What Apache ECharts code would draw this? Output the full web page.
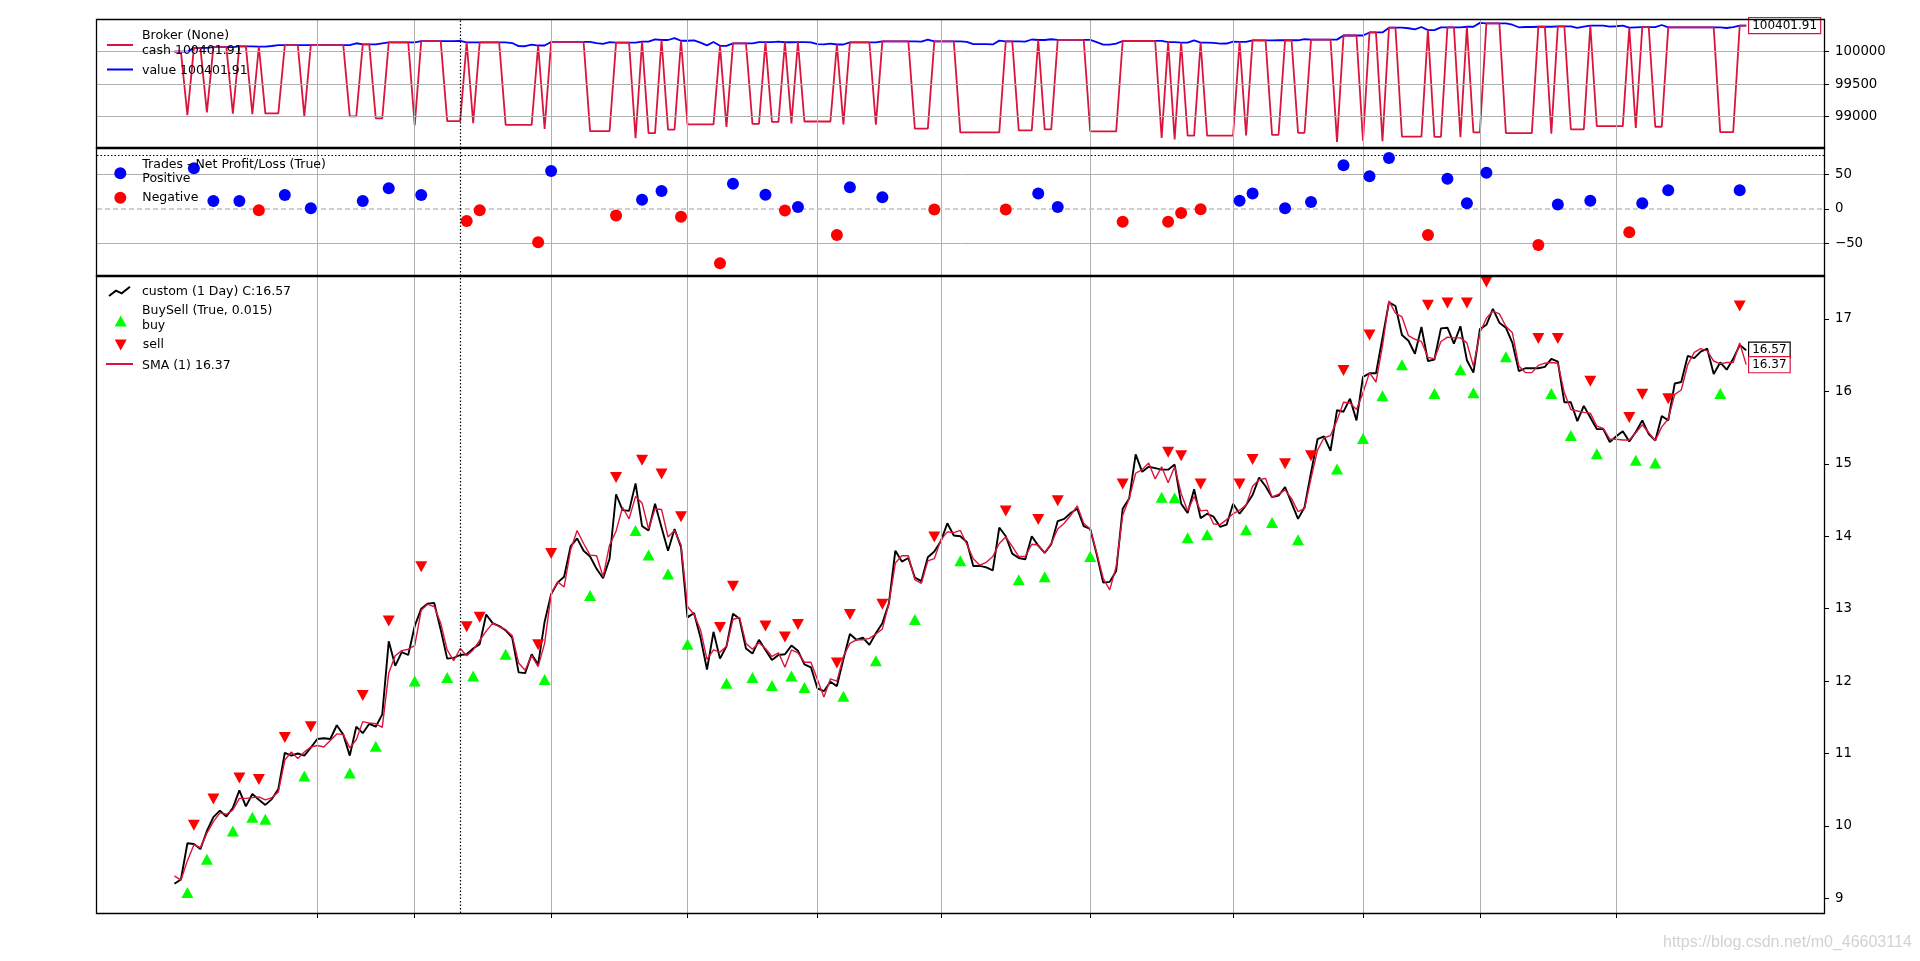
<!DOCTYPE html>
<html><head><meta charset="utf-8">
<script src="https://cdn.jsdelivr.net/npm/echarts@6/dist/echarts.min.js"></script>
<style>html,body{margin:0;padding:0;background:#fff}#c{width:1920px;height:961px}</style>
</head><body><div id="c"></div>
<script>
// ---- data (bar index based x axis) ----
const closeVals = [
9.20,9.26,9.76,9.75,9.68,9.93,10.12,10.21,10.13,10.25,
10.49,10.27,10.44,10.36,10.29,10.37,10.51,11.01,10.97,11.00,
10.97,11.08,11.20,11.21,11.20,11.39,11.26,10.97,11.37,11.28,
11.41,11.37,11.54,12.55,12.21,12.40,12.36,12.76,13.00,13.07,
13.08,12.71,12.31,12.32,12.36,12.37,12.45,12.51,12.92,12.80,
12.76,12.70,12.60,12.12,12.11,12.37,12.23,12.82,13.20,13.36,
13.44,13.86,13.97,13.80,13.72,13.55,13.42,13.69,14.58,14.36,
14.35,14.73,14.14,14.08,14.45,14.12,13.80,14.10,13.85,12.88,
12.94,12.60,12.16,12.68,12.31,12.48,12.93,12.86,12.45,12.38,
12.57,12.43,12.29,12.36,12.37,12.49,12.42,12.23,12.19,11.90,
11.86,11.99,11.93,12.30,12.65,12.57,12.60,12.50,12.66,12.80,
13.07,13.80,13.65,13.70,13.43,13.38,13.71,13.79,13.93,14.18,
14.01,14.00,13.92,13.59,13.59,13.57,13.53,14.12,14.00,13.76,
13.70,13.68,14.00,13.87,13.77,13.89,14.21,14.24,14.32,14.38,
14.14,14.10,13.75,13.36,13.37,13.52,14.38,14.52,15.13,14.89,
14.96,14.94,14.92,14.92,14.99,14.45,14.32,14.65,14.25,14.31,
14.27,14.13,14.16,14.45,14.31,14.43,14.57,14.81,14.69,14.54,
14.56,14.68,14.46,14.24,14.40,14.88,15.34,15.38,15.18,15.74,
15.72,15.90,15.60,16.20,16.25,16.25,16.74,17.23,17.18,16.78,
16.70,16.52,16.89,16.42,16.44,16.87,16.88,16.66,16.90,16.43,
16.26,16.86,16.92,17.14,16.95,16.88,16.67,16.28,16.32,16.32,
16.32,16.34,16.45,16.41,15.85,15.85,15.59,15.80,15.64,15.48,
15.48,15.30,15.38,15.45,15.31,15.44,15.60,15.41,15.32,15.66,
15.60,16.11,16.13,16.49,16.46,16.55,16.59,16.24,16.40,16.30,
16.45,16.64,16.57];
const smaVals = [
9.31,9.25,9.52,9.74,9.70,9.90,10.06,10.18,10.16,10.22,
10.38,10.38,10.39,10.40,10.36,10.39,10.47,10.91,11.02,10.93,
11.02,11.09,11.11,11.09,11.18,11.27,11.26,11.08,11.19,11.44,
11.42,11.41,11.36,12.11,12.35,12.42,12.44,12.49,12.98,13.06,
13.03,12.80,12.43,12.28,12.45,12.35,12.43,12.56,12.69,12.80,
12.75,12.71,12.63,12.25,12.15,12.35,12.20,12.52,13.20,13.37,
13.30,13.81,14.08,13.90,13.74,13.73,13.44,13.88,14.07,14.40,
14.24,14.55,14.46,14.10,14.38,14.37,13.99,14.08,13.88,13.03,
12.92,12.71,12.30,12.43,12.40,12.48,12.85,12.88,12.52,12.44,
12.53,12.45,12.34,12.39,12.19,12.43,12.39,12.26,12.26,12.02,
11.78,12.03,12.00,12.34,12.52,12.57,12.57,12.59,12.65,12.72,
13.07,13.63,13.73,13.73,13.40,13.35,13.66,13.69,13.95,14.06,
14.05,14.08,13.89,13.69,13.60,13.64,13.72,13.90,13.99,13.86,
13.72,13.72,13.89,13.88,13.77,13.90,14.10,14.18,14.29,14.42,
14.18,14.10,13.77,13.42,13.26,13.58,14.29,14.52,14.87,14.92,
15.01,14.79,14.96,14.74,14.96,14.59,14.35,14.55,14.35,14.36,
14.17,14.16,14.23,14.31,14.36,14.43,14.69,14.78,14.80,14.54,
14.58,14.64,14.52,14.34,14.38,14.80,15.19,15.36,15.39,15.60,
15.85,15.84,15.75,15.98,16.26,16.13,16.63,17.25,17.08,17.03,
16.77,16.72,16.69,16.47,16.45,16.69,16.75,16.74,16.74,16.67,
16.35,16.81,17.01,17.11,17.07,16.90,16.81,16.35,16.26,16.26,
16.36,16.39,16.40,16.39,15.98,15.75,15.73,15.71,15.70,15.52,
15.49,15.34,15.34,15.33,15.33,15.43,15.54,15.43,15.32,15.51,
15.62,15.96,16.02,16.37,16.54,16.59,16.56,16.42,16.38,16.40,
16.40,16.67,16.37];
const buyPts = [[2,9.08],[5,9.54],[9,9.93],[12,10.12],[14,10.09],[20,10.69],[27,10.73],[31,11.10],[37,12.00],[42,12.05],[46,12.07],[51,12.37],[57,12.02],[64,13.18],[71,14.08],[73,13.74],[76,13.48],[79,12.51],[85,11.97],[89,12.05],[92,11.94],[95,12.07],[97,11.91],[103,11.79],[108,12.28],[114,12.85],[121,13.66],[130,13.40],[134,13.44],[141,13.72],[152,14.54],[154,14.53],[156,13.98],[159,14.02],[165,14.09],[169,14.19],[173,13.95],[179,14.93],[183,15.35],[186,15.94],[189,16.37],[194,15.97],[198,16.30],[200,15.98],[205,16.48],[212,15.97],[215,15.39],[219,15.14],[225,15.05],[228,15.01],[238,15.97]];
const sellPts = [[3,10.01],[6,10.37],[10,10.66],[13,10.64],[17,11.22],[21,11.37],[29,11.80],[33,12.83],[38,13.58],[45,12.75],[47,12.88],[56,12.50],[58,13.76],[68,14.81],[72,15.05],[75,14.86],[78,14.27],[84,12.74],[86,13.31],[91,12.76],[94,12.61],[96,12.78],[102,12.25],[104,12.92],[109,13.06],[117,13.99],[128,14.35],[133,14.23],[136,14.49],[146,14.72],[153,15.16],[155,15.11],[158,14.72],[164,14.72],[166,15.06],[171,15.00],[175,15.11],[180,16.29],[184,16.78],[193,17.19],[196,17.22],[199,17.22],[202,17.51],[210,16.73],[213,16.73],[218,16.14],[224,15.64],[226,15.96],[230,15.90],[241,17.18]];
const tradePos = [[3,58.6],[6,11.5],[10,11.5],[17,20.2],[21,1.0],[29,11.5],[33,29.8],[38,20.2],[58,54.8],[72,13.5],[75,25.9],[86,36.5],[91,20.6],[96,3.0],[104,31.3],[109,17.1],[133,22.3],[136,3.0],[164,11.8],[166,22.3],[171,1.2],[175,10.1],[180,63.0],[184,47.1],[187,73.5],[196,43.5],[199,8.2],[202,52.3],[213,6.5],[218,11.8],[226,8.2],[230,26.9],[241,26.9]];
const tradeNeg = [[13,-1.9],[45,-17.3],[47,-1.9],[56,-48.0],[68,-9.4],[78,-11.1],[84,-78.2],[94,-2.3],[102,-37.6],[117,-0.6],[128,-0.6],[146,-18.2],[153,-18.2],[155,-5.8],[158,-0.5],[193,-37.6],[210,-51.7],[224,-33.6]];
const cashPts = [[0,100000],[1,100000],[2,99024],[3,100058.6],[4,100058.6],[5,99065.6],[6,100070.1],[8,100070.1],[9,99045.1],[10,100081.6],[11,100081.6],[12,99037.6],[13,100079.7],[14,99050.7],[16,99050.7],[17,100099.9],[19,100099.9],[20,99002.9],[21,100100.9],[26,100100.9],[27,99003.9],[28,99003.9],[29,100112.4],[30,100112.4],[31,98975.4],[32,98975.4],[33,100142.2],[36,100142.2],[37,98866.2],[38,100162.4],[41,100162.4],[42,98931.4],[44,98931.4],[45,100145.1],[46,98900.1],[47,100143.2],[50,100143.2],[51,98873.2],[55,98873.2],[56,100095.2],[57,98813.2],[58,100150],[63,100150],[64,98778],[67,98778],[68,100140.6],[70,100140.6],[71,98667.6],[72,100154.1],[73,98746.1],[74,98746.1],[75,100180],[76,98800],[77,98800],[78,100168.9],[79,98880.9],[83,98880.9],[84,100090.7],[85,98842.7],[86,100127.2],[88,100127.2],[89,98889.2],[90,98889.2],[91,100147.8],[92,98918.8],[93,98918.8],[94,100145.5],[95,98896.5],[96,100148.5],[97,98925.5],[101,98925.5],[102,100110.9],[103,98880.9],[104,100142.2],[107,100142.2],[108,98876.2],[109,100159.3],[113,100159.3],[114,98816.3],[116,98816.3],[117,100158.7],[120,100158.7],[121,98758.7],[127,98758.7],[128,100158.1],[129,100158.1],[130,98788.1],[132,98788.1],[133,100180.4],[134,98803.4],[135,98803.4],[136,100183.4],[140,100183.4],[141,98773.4],[145,98773.4],[146,100165.2],[151,100165.2],[152,98673.2],[153,100147],[154,98648],[155,100141.2],[156,98709.2],[157,98709.2],[158,100140.7],[159,98709.7],[163,98709.7],[164,100152.5],[165,98709.5],[166,100174.8],[168,100174.8],[169,98720.8],[170,98720.8],[171,100176],[172,100176],[173,98752],[174,98752],[175,100186.1],[178,100186.1],[179,98612.1],[180,100249.1],[182,100249.1],[183,98629.1],[184,100296.2],[185,100296.2],[186,98622.2],[187,100369.7],[188,100369.7],[189,98691.7],[192,98691.7],[193,100332.1],[194,98688.1],[195,98688.1],[196,100375.6],[197,100375.6],[198,98685.6],[199,100383.8],[200,98757.8],[201,98757.8],[202,100436.1],[204,100436.1],[205,98748.1],[209,98748.1],[210,100384.4],[211,100384.4],[212,98739.4],[213,100390.9],[214,100390.9],[215,98805.9],[217,98805.9],[218,100402.7],[219,98854.7],[223,98854.7],[224,100369.1],[225,98825.1],[226,100377.3],[227,100377.3],[228,98845.3],[229,98845.3],[230,100375],[237,100375],[238,98761],[240,98761],[241,100401.91],[242,100401.91]];
const valuePts = [[0,100000],[2,100000],[3,100058.6],[5,100058.6],[6,100070.1],[9,100070.1],[10,100081.6],[12,100081.6],[13,100079.7],[14,100079.7],[15,100087.7],[16,100101.7],[17,100099.9],[20,100099.9],[21,100100.9],[27,100100.9],[28,100130],[29,100112.4],[31,100112.4],[32,100129],[33,100142.2],[37,100142.2],[38,100162.4],[42,100162.4],[43,100163.4],[44,100167.4],[45,100145.1],[46,100145.1],[47,100143.2],[51,100143.2],[52,100133.2],[53,100085.2],[54,100084.2],[55,100110.2],[56,100095.2],[57,100095.2],[58,100150],[64,100150],[65,100133],[66,100120],[67,100147],[68,100140.6],[71,100140.6],[72,100154.1],[73,100154.1],[74,100191],[75,100180],[76,100180],[77,100210],[78,100168.9],[79,100168.9],[80,100174.9],[81,100140.9],[82,100096.9],[83,100148.9],[84,100090.7],[85,100090.7],[86,100127.2],[89,100127.2],[90,100146],[91,100147.8],[92,100147.8],[93,100155],[94,100145.5],[95,100145.5],[96,100148.5],[97,100148.5],[98,100144.5],[99,100115.5],[100,100111.5],[101,100124.5],[102,100110.9],[103,100110.9],[104,100142.2],[108,100142.2],[109,100159.3],[114,100159.3],[115,100154.3],[116,100187.3],[117,100158.7],[121,100158.7],[122,100151.7],[123,100117.7],[124,100117.7],[125,100115.7],[126,100111.7],[127,100170.7],[128,100158.1],[130,100158.1],[131,100156.1],[132,100188.1],[133,100180.4],[134,100180.4],[135,100192],[136,100183.4],[141,100183.4],[142,100148.4],[143,100109.4],[144,100110.4],[145,100125.4],[146,100165.2],[152,100165.2],[153,100147],[154,100147],[155,100141.2],[156,100141.2],[157,100174],[158,100140.7],[159,100140.7],[160,100137],[161,100123],[162,100126],[163,100155],[164,100152.5],[165,100152.5],[166,100174.8],[169,100174.8],[170,100177],[171,100176],[173,100176],[174,100192],[175,100186.1],[179,100186.1],[180,100249.1],[183,100249.1],[184,100296.2],[186,100296.2],[187,100369.7],[189,100369.7],[190,100361],[191,100343],[192,100380],[193,100332.1],[194,100332.1],[195,100375],[196,100375.6],[198,100375.6],[199,100383.8],[200,100383.8],[201,100444],[202,100436.1],[205,100436.1],[206,100415],[207,100376],[208,100380],[209,100380],[210,100384.4],[212,100384.4],[213,100390.9],[215,100390.9],[216,100365],[217,100386],[218,100402.7],[220,100402.7],[221,100385],[222,100392],[223,100400],[224,100369.1],[226,100377.3],[228,100377.3],[229,100411],[230,100375],[238,100375],[239,100365],[240,100380],[241,100401.91],[242,100401.91]];
const monthTicks = [22,37,58,79,99,118,141,163,183,201,222];
const cursorIdx = 44;
const brokerTicks = [99000,99500,100000];
const tradeTicks = [-50,0,50];
const priceTicks = [9,10,11,12,13,14,15,16,17];

// ---- layout ----
const L = 97, W = 1727;
const G = [{top:20,h:128},{top:148,h:128},{top:276,h:637}];
const XMIN = -11.92, XMAX = 253.98;
const FONT = '"DejaVu Sans", Verdana, sans-serif';
const GRIDC = '#b0b0b0';
const CRIMSON = '#dc143c';

const chart = echarts.init(document.getElementById('c'), null, {renderer:'canvas'});

function xAx(i, bottom){
  return {gridIndex:i, type:'value', min:XMIN, max:XMAX,
    axisLine:{show:false, onZero:false},
    axisTick:{show:!!bottom, length:5, customValues: monthTicks, lineStyle:{color:'#000', width:1}},
    axisLabel:{show:false}, splitLine:{show:false}};
}
function yAx(i, min, max, ticks, fmt){
  return {gridIndex:i, type:'value', position:'right', min, max, scale:true,
    axisLine:{show:false, onZero:false},
    axisTick:{show:true, length:5, customValues: ticks, lineStyle:{color:'#000', width:1}},
    axisLabel:{show:true, customValues: ticks, margin:11, color:'#000', fontSize:13.3, fontFamily:FONT,
      formatter: fmt || (v => String(v))},
    splitLine:{show:false}};
}
const minusFmt = v => (v < 0 ? '\u2212' + Math.abs(v) : String(v));

function mlines(items){
  return {silent:true, symbol:['none','none'], label:{show:false}, animation:false, emphasis:{disabled:true}, data: items};
}
const gridV = monthTicks.map(v => ({xAxis:v, lineStyle:{color:GRIDC, width:1, type:'solid'}}));
const cursorV = [{xAxis:cursorIdx, lineStyle:{color:'#000', width:1.2, type:[1.5,2]}}];

function endLbl(border){
  return {show:true, distance:3, formatter: p => Number(p.value[1]).toFixed(2),
    color:'#000', fontSize:12, fontFamily:FONT, backgroundColor:'#fff',
    borderColor:border, borderWidth:1.2, padding:[2,3,1,3]};
}
const pairs = arr => arr.map((v,i)=>[i,v]);

const series = [
  // grid 0: broker
  {type:'line', xAxisIndex:0, yAxisIndex:0, data:[], z:1,
    markLine: mlines(gridV.concat(brokerTicks.map(v=>({yAxis:v, lineStyle:{color:GRIDC,width:1,type:'solid'}}))))},
  {name:'value', type:'line', xAxisIndex:0, yAxisIndex:0, data:valuePts, showSymbol:false, symbol:'none',
    lineStyle:{color:'#0000ff', width:1.8}, z:3},
  {name:'cash', type:'line', xAxisIndex:0, yAxisIndex:0, data:cashPts, showSymbol:false, symbol:'none',
    lineStyle:{color:CRIMSON, width:1.8}, z:4, endLabel: endLbl(CRIMSON)},
  // grid 1: trades
  {type:'line', xAxisIndex:1, yAxisIndex:1, data:[], z:1,
    markLine: mlines(gridV.concat([
      {yAxis:50, lineStyle:{color:GRIDC,width:1,type:'solid'}},
      {yAxis:-50, lineStyle:{color:GRIDC,width:1,type:'solid'}},
      {yAxis:0, lineStyle:{color:'#c0c0c0',width:1.5,type:[5,3]}}]))},
  {name:'Positive', type:'scatter', xAxisIndex:1, yAxisIndex:1, data:tradePos, symbol:'circle', symbolSize:12,
    itemStyle:{color:'#0000ff', opacity:1}, z:5},
  {name:'Negative', type:'scatter', xAxisIndex:1, yAxisIndex:1, data:tradeNeg, symbol:'circle', symbolSize:12,
    itemStyle:{color:'#ff0000', opacity:1}, z:5},
  // grid 2: price
  {type:'line', xAxisIndex:2, yAxisIndex:2, data:[], z:1, markLine: mlines(gridV)},
  {name:'close', type:'line', xAxisIndex:2, yAxisIndex:2, data:pairs(closeVals), showSymbol:false, symbol:'none',
    lineStyle:{color:'#000', width:1.9}, z:3, endLabel: endLbl('#000')},
  {name:'SMA', type:'line', xAxisIndex:2, yAxisIndex:2, data:pairs(smaVals), showSymbol:false, symbol:'none',
    lineStyle:{color:CRIMSON, width:1.4}, z:4, endLabel: endLbl(CRIMSON)},
  {name:'buy', type:'scatter', xAxisIndex:2, yAxisIndex:2, data:buyPts, symbol:'triangle', symbolSize:[12,11],
    itemStyle:{color:'#00ff00', opacity:1}, z:6},
  {name:'sell', type:'scatter', xAxisIndex:2, yAxisIndex:2, data:sellPts, symbol:'triangle', symbolSize:[12,11], symbolRotate:180,
    itemStyle:{color:'#ff0000', opacity:1}, z:6},
  // cursor lines
  {type:'line', xAxisIndex:0, yAxisIndex:0, data:[], z:10, markLine: mlines(cursorV)},
  {type:'line', xAxisIndex:1, yAxisIndex:1, data:[], z:10, markLine: mlines(cursorV.concat([{yAxis:78, lineStyle:{color:'#000', width:1.2, type:[1.5,2]}}]))},
  {type:'line', xAxisIndex:2, yAxisIndex:2, data:[], z:10, markLine: mlines(cursorV)}
];

function txt(x, y, s){
  return {type:'text', x, y, z:100, silent:true,
    style:{text:s, font:'12.5px ' + FONT, fill:'#000', verticalAlign:'middle', align:'left'}};
}
function frame(g){
  return {type:'rect', z:100, silent:true, shape:{x:L-0.5, y:g.top-0.5, width:W+1, height:g.h+1},
    style:{fill:'rgba(0,0,0,0)', stroke:'#000', lineWidth:1.3}};
}
const graphics = [
  frame(G[0]), frame(G[1]), frame(G[2]),
  // broker legend
  {type:'line', z:100, silent:true, shape:{x1:107,y1:45,x2:133,y2:45}, style:{stroke:CRIMSON, lineWidth:2}},
  txt(142, 36, 'Broker (None)'),
  txt(142, 50.5, 'cash 100401.91'),
  {type:'line', z:100, silent:true, shape:{x1:107,y1:69.5,x2:133,y2:69.5}, style:{stroke:'#0000ff', lineWidth:2}},
  txt(142, 71, 'value 100401.91'),
  // trades legend
  {type:'circle', z:100, silent:true, shape:{cx:120.3, cy:173.3, r:6}, style:{fill:'#0000ff'}},
  txt(142.3, 165, 'Trades - Net Profit/Loss (True)'),
  txt(142.3, 179, 'Positive'),
  {type:'circle', z:100, silent:true, shape:{cx:120.3, cy:197.7, r:6}, style:{fill:'#ff0000'}},
  txt(142.3, 198, 'Negative'),
  // price legend
  {type:'polyline', z:100, silent:true, shape:{points:[[109,296],[116,290.7],[121.7,293.3],[130,286.7]]}, style:{stroke:'#000', lineWidth:2, fill:null}},
  txt(142, 292, 'custom (1 Day) C:16.57'),
  txt(142, 311, 'BuySell (True, 0.015)'),
  {type:'polygon', z:100, silent:true, shape:{points:[[114.7,326.5],[126.7,326.5],[120.7,315.5]]}, style:{fill:'#00ff00'}},
  txt(142, 325.5, 'buy'),
  {type:'polygon', z:100, silent:true, shape:{points:[[114.7,339.5],[126.7,339.5],[120.7,350.5]]}, style:{fill:'#ff0000'}},
  txt(142.7, 344.5, 'sell'),
  {type:'line', z:100, silent:true, shape:{x1:106,y1:364,x2:133,y2:364}, style:{stroke:CRIMSON, lineWidth:2}},
  txt(142, 365.5, 'SMA (1) 16.37'),
  // watermark
  {type:'text', x:1663, y:943, z:100, silent:true,
    style:{text:'https://blog.csdn.net/m0_46603114', font:'16px "Liberation Sans", Arial, sans-serif', fill:'#d2d2d2', verticalAlign:'middle'}}
];

chart.setOption({
  animation:false,
  backgroundColor:'#fff',
  grid: G.map(g => ({left:L, top:g.top, width:W, height:g.h, containLabel:false})),
  xAxis: [xAx(0,false), xAx(1,false), xAx(2,true)],
  yAxis: [
    yAx(0, 98518, 100488, brokerTicks),
    yAx(1, -96.5, 87.9, tradeTicks, minusFmt),
    yAx(2, 8.797, 17.594, priceTicks)
  ],
  series,
  graphic: graphics
});
</script>
</body></html>
